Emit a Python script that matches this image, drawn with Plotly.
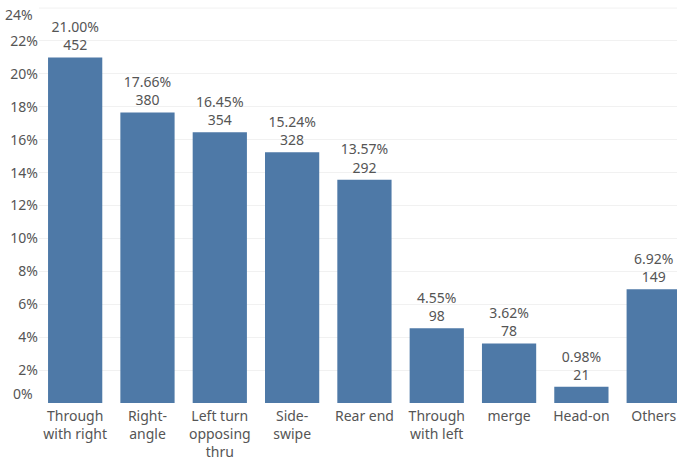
import plotly.graph_objects as go

# Crash types, share of all crashes (%) and crash counts
categories = ["Through<br>with right", "Right-<br>angle", "Left turn<br>opposing<br>thru",
              "Side-<br>swipe", "Rear end", "Through<br>with left", "merge", "Head-on", "Others"]
share_pct = [21.00, 17.66, 16.45, 15.24, 13.57, 4.55, 3.62, 0.98, 6.92]
crash_counts = [452, 380, 354, 328, 292, 98, 78, 21, 149]
y_ticks = [2, 4, 6, 8, 10, 12, 14, 16, 18, 20, 22]

FONT = "Noto Sans"
TEXT_COLOR = "#555555"
BAR_COLOR = "#4e79a7"
FS = 14

labels = [f"{p:.2f}%<br>{c}" for p, c in zip(share_pct, crash_counts)]

fig = go.Figure(go.Bar(
    x=list(range(len(categories))),
    y=share_pct,
    marker=dict(color=BAR_COLOR, line=dict(width=0)),
    text=labels,
    textposition="outside",
    textfont=dict(family=FONT, size=FS, color=TEXT_COLOR),
    cliponaxis=False,
    hoverinfo="skip",
))

fig.update_layout(
    width=677, height=461,
    margin=dict(l=39, r=0, t=0, b=55),
    paper_bgcolor="white", plot_bgcolor="white",
    bargap=0.25,
    showlegend=False,
    font=dict(family=FONT, size=FS, color=TEXT_COLOR),
)

fig.update_xaxes(
    tickmode="array",
    tickvals=list(range(len(categories))),
    ticktext=categories,
    range=[-0.5, 8.322],
    showgrid=False, zeroline=False, showline=False,
    ticks="", ticklabelstandoff=3,
    tickfont=dict(family=FONT, size=FS, color=TEXT_COLOR),
)

fig.update_yaxes(
    range=[0, 24.49],
    tickmode="array",
    tickvals=y_ticks,
    ticktext=[f"{v}%" for v in y_ticks],
    showgrid=True, gridcolor="#f1f1f1", gridwidth=1,
    zeroline=False, showline=False, ticks="",
    tickfont=dict(family=FONT, size=FS, color=TEXT_COLOR),
)

# gridline at the top tick; its label and the 0% label sit nudged inside the frame
fig.add_shape(type="line", xref="paper", yref="y", x0=0, x1=1, y0=24, y1=24,
              line=dict(color="#f1f1f1", width=1), layer="below")
for val, shift in [(24, -6), (0, 10)]:
    fig.add_annotation(x=0, xref="paper", y=val, yref="y", text=f"{val}%",
                       showarrow=False, xanchor="right", xshift=-4, yshift=shift,
                       font=dict(family=FONT, size=FS, color=TEXT_COLOR))

fig.write_html("out.html")
